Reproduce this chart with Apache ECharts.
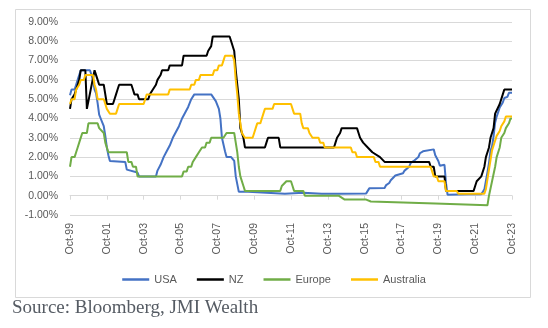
<!DOCTYPE html>
<html>
<head>
<meta charset="utf-8">
<script src="https://cdn.jsdelivr.net/npm/echarts@6/dist/echarts.min.js"></script>
<style>
  html, body { margin: 0; padding: 0; background: #ffffff; }
  #chart { width: 548px; height: 328px; }
</style>
</head>
<body>
<div id="chart"></div>
<script>
// Policy interest rates, % — vertices [month, rate] of each line.
const tickLabels = ['Oct-99','Oct-01','Oct-03','Oct-05','Oct-07','Oct-09','Oct-11',
                    'Oct-13','Oct-15','Oct-17','Oct-19','Oct-21','Oct-23'];

const usa = [
  ['1999-10',5.2],['1999-11',5.5],['2000-01',5.5],['2000-02',5.75],['2000-03',6.0],['2000-04',6.0],
  ['2000-05',6.5],['2000-11',6.5],['2001-01',6.0],['2001-02',5.5],['2001-03',5.3],['2001-04',4.8],
  ['2001-05',4.2],['2001-06',4.0],['2001-07',3.8],['2001-08',3.6],['2001-09',3.1],['2001-10',2.5],
  ['2001-11',2.1],['2001-12',1.8],['2002-10',1.75],['2002-11',1.35],['2002-12',1.25],['2003-06',1.2],
  ['2003-07',1.0],['2004-06',1.0],['2004-07',1.3],['2004-09',1.6],['2004-11',2.0],['2005-01',2.3],
  ['2005-03',2.6],['2005-05',3.0],['2005-07',3.3],['2005-09',3.6],['2005-11',4.0],['2006-01',4.3],
  ['2006-03',4.6],['2006-05',5.0],['2006-07',5.25],['2007-06',5.25],['2007-09',4.9],['2007-11',4.5],
  ['2007-12',4.0],['2008-01',3.0],['2008-03',2.3],['2008-04',2.0],['2008-07',2.0],['2008-09',1.8],
  ['2008-10',1.0],['2008-12',0.2],['2009-06',0.2],['2010-06',0.15],['2011-06',0.1],['2012-06',0.15],
  ['2013-06',0.1],['2014-06',0.1],['2015-11',0.12],['2015-12',0.25],['2016-01',0.38],['2016-11',0.4],
  ['2016-12',0.55],['2017-01',0.65],['2017-02',0.66],['2017-03',0.8],['2017-04',0.9],['2017-06',1.05],
  ['2017-07',1.15],['2017-11',1.16],['2017-12',1.3],['2018-01',1.4],['2018-03',1.5],['2018-04',1.7],
  ['2018-06',1.8],['2018-07',1.9],['2018-09',2.0],['2018-10',2.2],['2018-12',2.3],['2019-01',2.4],
  ['2019-07',2.4],['2019-08',2.1],['2019-09',2.0],['2019-10',1.8],['2019-11',1.55],['2020-02',1.6],
  ['2020-03',0.65],['2020-04',0.05],['2021-06',0.08],['2022-02',0.08],['2022-03',0.2],['2022-04',0.33],
  ['2022-05',0.77],['2022-06',1.21],['2022-07',1.68],['2022-08',2.33],['2022-09',2.56],['2022-10',3.08],
  ['2022-11',3.78],['2022-12',4.1],['2023-01',4.33],['2023-02',4.57],['2023-03',4.65],['2023-04',4.83],
  ['2023-05',5.06],['2023-06',5.08],['2023-07',5.12],['2023-08',5.33],['2023-10',5.33]
];

const nz = [
  ['1999-10',4.5],['1999-11',5.0],['2000-01',5.25],['2000-03',5.75],['2000-04',6.0],['2000-05',6.5],
  ['2000-08',6.5],['2000-09',4.5],['2001-02',6.5],['2001-03',6.25],['2001-04',6.0],['2001-05',5.75],
  ['2001-08',5.75],['2001-09',5.25],['2001-10',4.75],['2002-02',4.75],['2002-03',5.0],['2002-04',5.25],
  ['2002-05',5.5],['2002-06',5.75],['2003-02',5.75],['2003-03',5.5],['2003-04',5.25],['2003-06',5.25],
  ['2003-07',5.0],['2004-01',5.0],['2004-02',5.25],['2004-04',5.5],['2004-06',5.75],['2004-07',6.0],
  ['2004-09',6.25],['2004-10',6.5],['2005-02',6.5],['2005-03',6.75],['2005-11',6.75],['2005-12',7.25],
  ['2007-03',7.25],['2007-04',7.5],['2007-06',7.75],['2007-07',8.25],['2008-06',8.25],['2008-07',8.0],
  ['2008-09',7.5],['2008-10',6.5],['2008-12',5.0],['2009-01',3.5],['2009-03',3.0],['2009-04',2.5],
  ['2010-05',2.5],['2010-06',2.75],['2010-07',3.0],['2011-02',3.0],['2011-03',2.5],['2014-02',2.5],
  ['2014-03',2.75],['2014-04',3.0],['2014-06',3.25],['2014-07',3.5],['2015-05',3.5],['2015-06',3.25],
  ['2015-07',3.0],['2015-09',2.75],['2015-12',2.5],['2016-03',2.25],['2016-08',2.0],['2016-11',1.75],
  ['2019-04',1.75],['2019-05',1.5],['2019-07',1.5],['2019-08',1.0],['2020-02',1.0],['2020-03',0.25],
  ['2021-09',0.25],['2021-10',0.5],['2021-11',0.75],['2022-02',1.0],['2022-04',1.5],['2022-05',2.0],
  ['2022-07',2.5],['2022-08',3.0],['2022-10',3.5],['2022-11',4.25],['2023-02',4.75],['2023-04',5.25],
  ['2023-05',5.5],['2023-10',5.5]
];

const europe = [
  ['1999-10',1.5],['1999-11',2.0],['2000-01',2.0],['2000-02',2.25],['2000-03',2.5],['2000-04',2.75],
  ['2000-05',2.75],['2000-06',3.25],['2000-09',3.25],['2000-10',3.75],['2001-04',3.75],['2001-05',3.5],
  ['2001-08',3.25],['2001-09',2.75],['2001-11',2.25],['2002-11',2.25],['2002-12',1.75],['2003-02',1.75],
  ['2003-03',1.5],['2003-05',1.5],['2003-06',1.0],['2005-11',1.0],['2005-12',1.25],['2006-02',1.25],
  ['2006-03',1.5],['2006-05',1.5],['2006-06',1.75],['2006-07',1.75],['2006-08',2.0],['2006-09',2.0],
  ['2006-10',2.25],['2006-11',2.25],['2006-12',2.5],['2007-02',2.5],['2007-03',2.75],['2007-05',2.75],
  ['2007-06',3.0],['2008-02',3.0],['2008-04',3.25],['2008-09',3.25],['2008-10',2.75],['2008-11',2.25],
  ['2008-12',1.5],['2009-01',1.0],['2009-03',0.5],['2009-04',0.25],['2011-03',0.25],['2011-04',0.5],
  ['2011-07',0.75],['2011-10',0.75],['2011-11',0.5],['2011-12',0.25],['2012-06',0.25],['2012-07',0.0],
  ['2014-05',0.0],['2014-06',-0.1],['2014-09',-0.2],['2015-11',-0.2],['2015-12',-0.3],['2016-02',-0.3],
  ['2016-03',-0.4],['2019-08',-0.4],['2019-09',-0.5],['2022-06',-0.5],['2022-07',0.0],['2022-09',0.75],
  ['2022-11',1.5],['2022-12',2.0],['2023-02',2.5],['2023-03',3.0],['2023-05',3.25],['2023-06',3.5],
  ['2023-08',3.75],['2023-09',4.0],['2023-10',4.0]
];

const australia = [
  ['1999-10',4.75],['1999-11',5.0],['2000-01',5.0],['2000-02',5.5],['2000-03',5.5],['2000-04',5.75],
  ['2000-05',6.0],['2000-07',6.0],['2000-08',6.25],['2001-01',6.25],['2001-02',5.75],['2001-03',5.5],
  ['2001-04',5.0],['2001-08',5.0],['2001-09',4.75],['2001-10',4.5],['2001-11',4.5],['2001-12',4.25],
  ['2002-04',4.25],['2002-05',4.5],['2002-06',4.75],['2003-10',4.75],['2003-11',5.0],['2003-12',5.25],
  ['2005-02',5.25],['2005-03',5.5],['2006-04',5.5],['2006-05',5.75],['2006-07',5.75],['2006-08',6.0],
  ['2006-10',6.0],['2006-11',6.25],['2007-07',6.25],['2007-08',6.5],['2007-10',6.5],['2007-11',6.75],
  ['2008-01',6.75],['2008-02',7.0],['2008-03',7.25],['2008-08',7.25],['2008-09',7.0],['2008-10',6.0],
  ['2008-11',5.25],['2008-12',4.25],['2009-01',4.25],['2009-02',3.25],['2009-03',3.25],['2009-04',3.0],
  ['2009-09',3.0],['2009-10',3.25],['2009-11',3.5],['2009-12',3.75],['2010-02',3.75],['2010-03',4.0],
  ['2010-04',4.25],['2010-05',4.5],['2010-10',4.5],['2010-11',4.75],['2011-10',4.75],['2011-11',4.5],
  ['2011-12',4.25],['2012-04',4.25],['2012-05',3.75],['2012-06',3.5],['2012-09',3.5],['2012-10',3.25],
  ['2012-11',3.25],['2012-12',3.0],['2013-04',3.0],['2013-05',2.75],['2013-07',2.75],['2013-08',2.5],
  ['2015-01',2.5],['2015-02',2.25],['2015-04',2.25],['2015-05',2.0],['2016-04',2.0],['2016-05',1.75],
  ['2016-07',1.75],['2016-08',1.5],['2019-05',1.5],['2019-06',1.25],['2019-07',1.0],['2019-09',1.0],
  ['2019-10',0.75],['2020-02',0.75],['2020-03',0.25],['2020-10',0.25],['2020-11',0.1],['2022-04',0.1],
  ['2022-05',0.35],['2022-06',0.85],['2022-07',1.35],['2022-08',1.85],['2022-09',2.35],['2022-10',2.6],
  ['2022-11',2.85],['2022-12',3.1],['2023-01',3.1],['2023-02',3.35],['2023-03',3.6],['2023-04',3.6],
  ['2023-05',3.85],['2023-06',4.1],['2023-10',4.1]
];

const seriesNames = ['USA', 'NZ', 'Europe', 'Australia'];
const seriesColors = ['#4472C4', '#000000', '#70AD47', '#FFC000'];
const seriesData = [usa, nz, europe, australia];

// 'YYYY-MM' -> months since Oct 1999
function monthIndex(s) {
  const [y, m] = s.split('-').map(Number);
  return (y - 1999) * 12 + (m - 10);
}

const labelFont = { fontFamily: 'Liberation Sans, Arial, sans-serif', fontSize: 10.5, color: '#595959' };
const gridColor = '#d9d9d9';

const chart = echarts.init(document.getElementById('chart'), null, { renderer: 'canvas' });

chart.setOption({
  backgroundColor: '#ffffff',
  animation: false,
  graphic: [
    {
      type: 'rect', left: 13, top: 7, z: -10,
      shape: { width: 515, height: 288 },
      style: { fill: 'none', stroke: gridColor, lineWidth: 1 }
    },
    {
      type: 'text', left: 12, top: 299,
      style: {
        text: 'Source: Bloomberg, JMI Wealth',
        font: '19px "Liberation Serif", "Times New Roman", serif',
        fill: '#555b63'
      }
    }
  ],
  legend: {
    data: seriesNames,
    left: 'center',
    top: 269,
    icon: 'rect',
    itemWidth: 27,
    itemHeight: 2.5,
    itemGap: 20,
    textStyle: Object.assign({}, labelFont, { fontSize: 11 })
  },
  grid: { left: 70, right: 36, top: 22, bottom: 113, containLabel: false },
  xAxis: [
    {
      type: 'value', min: 0, max: 288, interval: 24,
      axisLine: { show: false, onZero: false },
      axisTick: { show: false },
      splitLine: { show: false },
      axisLabel: Object.assign({
        rotate: 90, margin: 8, showMinLabel: true, showMaxLabel: true,
        formatter: v => tickLabels[Math.round(v / 24)]
      }, labelFont)
    },
    {
      // zero line carrying the tick marks
      type: 'value', min: 0, max: 288, interval: 24, position: 'bottom',
      axisLine: { show: true, onZero: true, lineStyle: { color: gridColor, width: 1 } },
      axisTick: { show: true, length: 4, lineStyle: { color: gridColor } },
      splitLine: { show: false },
      axisLabel: { show: false }
    }
  ],
  yAxis: {
    type: 'value', min: -1, max: 9, interval: 1,
    axisLine: { show: false },
    axisTick: { show: false },
    splitLine: { lineStyle: { color: gridColor, width: 1 } },
    axisLabel: Object.assign({ margin: 12, formatter: v => v.toFixed(2) + '%' }, labelFont)
  },
  series: seriesNames.map((name, i) => ({
    name: name,
    type: 'line',
    xAxisIndex: 0,
    symbol: 'none',
    color: seriesColors[i],
    lineStyle: { width: 2, color: seriesColors[i] },
    data: seriesData[i].map(p => [monthIndex(p[0]), p[1]]),
    z: 2 + i
  }))
});
</script>
</body>
</html>
